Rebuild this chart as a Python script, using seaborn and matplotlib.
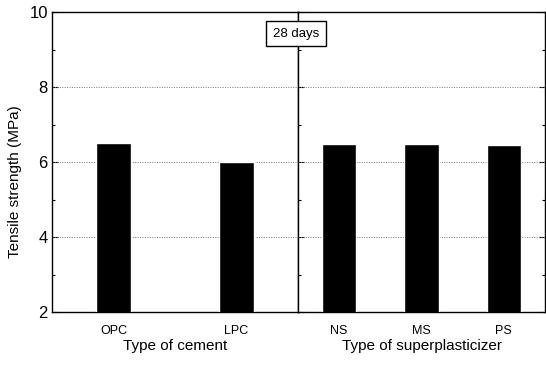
import matplotlib
matplotlib.use("Agg")
import matplotlib.pyplot as plt
from matplotlib.ticker import MultipleLocator
import seaborn as sns
import pandas as pd

cement_types = ["OPC", "LPC"]
cement_strength = [6.51, 5.99]
sp_types = ["NS", "MS", "PS"]
sp_strength = [6.48, 6.47, 6.44]
y_ticks = [2, 4, 6, 8, 10]

sns.set_theme(style="white")
plt.rcParams["font.family"] = ["Liberation Sans", "DejaVu Sans"]
plt.rcParams["text.color"] = "black"
plt.rcParams["axes.labelcolor"] = "black"
plt.rcParams["xtick.color"] = "black"
plt.rcParams["ytick.color"] = "black"

fig = plt.figure(figsize=(5.46, 3.67), dpi=100)
W, H = 546, 367
ax1 = fig.add_axes([52 / W, 1 - 312 / H, 246 / W, 300 / H])
ax2 = fig.add_axes([298 / W, 1 - 312 / H, 247 / W, 300 / H], sharey=ax1)

df1 = pd.DataFrame({"type": cement_types, "strength": cement_strength})
df2 = pd.DataFrame({"type": sp_types, "strength": sp_strength})

sns.barplot(data=df1, x="type", y="strength", color="black", width=0.285,
            saturation=1, ax=ax1, zorder=3)
sns.barplot(data=df2, x="type", y="strength", color="black", width=0.42,
            saturation=1, ax=ax2, zorder=3)

ax1.set_xlim(-0.5, 1.5)
ax2.set_xlim(-0.5, 2.5)
ax1.set_ylim(2, 10)

for ax in (ax1, ax2):
    for s in ax.spines.values():
        s.set_color("black")
        s.set_linewidth(1.0)
    ax.yaxis.set_major_locator(MultipleLocator(2))
    ax.yaxis.set_minor_locator(MultipleLocator(1))
    ax.tick_params(axis="y", which="both", direction="in", left=True,
                   right=(ax is ax2), length=4, width=0.8)
    ax.tick_params(axis="y", which="minor", length=2)
    ax.tick_params(axis="x", bottom=False, labelsize=9, pad=3.5)
    for y in (4, 6, 8):
        ax.axhline(y, color="#777777", linestyle=(0, (1, 1.5)), linewidth=0.7, zorder=1)

ax1.set_yticks(y_ticks)
ax1.tick_params(axis="y", labelsize=12, pad=3)
ax2.tick_params(axis="y", labelleft=False)

ax1.set_ylabel("Tensile strength (MPa)", fontsize=11)
ax1.yaxis.set_label_coords(-30 / 246, 0.433)
ax2.set_ylabel("")
ax1.set_xlabel("Type of cement", fontsize=11, labelpad=1)
ax2.set_xlabel("Type of superplasticizer", fontsize=11, labelpad=1)

fig.text(296 / W, 1 - 33.5 / H, "28 days", ha="center", va="center", fontsize=9.5,
         bbox=dict(boxstyle="square,pad=0.5", fc="white", ec="black", lw=1.0),
         zorder=10)

fig.savefig("out.png", dpi=100, facecolor="white")
